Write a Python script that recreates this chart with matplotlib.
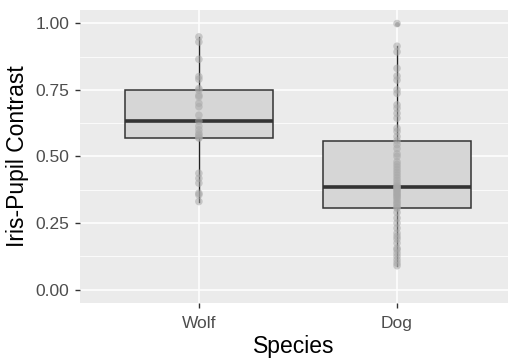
import matplotlib
matplotlib.use('Agg')
import matplotlib.pyplot as plt
import numpy as np

plt.rcParams['font.family'] = ['Liberation Sans', 'DejaVu Sans']

species = ['Wolf', 'Dog']

wolf = [0.331, 0.356, 0.362, 0.400, 0.418, 0.437, 0.569, 0.572, 0.580,
        0.587, 0.600, 0.614, 0.633, 0.655, 0.687, 0.700, 0.724, 0.730,
        0.749, 0.755, 0.790, 0.800, 0.865, 0.930, 0.949]

dog = [0.090, 0.100, 0.112, 0.125, 0.137, 0.150, 0.156, 0.175, 0.190,
       0.200, 0.212, 0.231, 0.250, 0.269, 0.290,
       0.306,
       0.310, 0.318, 0.325, 0.330, 0.338, 0.345, 0.350, 0.355, 0.360,
       0.365, 0.370, 0.375, 0.380, 0.384,
       0.387,
       0.392, 0.400, 0.410, 0.420, 0.430, 0.440, 0.450, 0.460, 0.470,
       0.480, 0.500, 0.510, 0.530, 0.545,
       0.559,
       0.575, 0.594, 0.606, 0.644, 0.662, 0.681, 0.694, 0.737, 0.750,
       0.787, 0.802, 0.831, 0.893, 0.914, 0.999]

yticks = [0.00, 0.25, 0.50, 0.75, 1.00]
ytick_labels = ['0.00', '0.25', '0.50', '0.75', '1.00']

W, H = 509, 358
fig = plt.figure(figsize=(W / 100, H / 100), dpi=100)
ax = fig.add_axes([80 / W, (H - 303) / H, 428 / W, 293 / H])
ax.set_facecolor('#EBEBEB')

data = [wolf, dog]
pos = [1, 2]

ax.boxplot(data, positions=pos, widths=0.75, patch_artist=True,
           boxprops=dict(facecolor='#D6D6D6', edgecolor='#333333', linewidth=1.1),
           medianprops=dict(color='#333333', linewidth=2.6),
           whiskerprops=dict(color='#222222', linewidth=1.0),
           capprops=dict(linewidth=0),
           flierprops=dict(marker='o', markersize=3.5, markerfacecolor='#777777',
                           markeredgecolor='none', alpha=0.6),
           zorder=2)

for p, vals in zip(pos, data):
    ax.scatter(np.full(len(vals), p), vals, s=30, color='#A8A8A8', alpha=0.55,
               edgecolors='none', zorder=3)

ax.set_xlim(0.4, 2.56)
ax.set_ylim(-0.05, 1.05)
ax.set_xticks(pos)
ax.set_xticklabels(species)
ax.set_yticks(yticks)
ax.set_yticklabels(ytick_labels)
ax.set_yticks([0.125, 0.375, 0.625, 0.875], minor=True)

ax.grid(which='major', color='white', linewidth=1.1, zorder=0)
ax.grid(which='minor', axis='y', color='white', linewidth=0.55, zorder=0)
ax.set_axisbelow(True)

for s in ax.spines.values():
    s.set_visible(False)

ax.tick_params(axis='both', which='major', length=3.5, width=1.0, color='#333333',
               labelcolor='#4D4D4D', labelsize=12.5, pad=4)
ax.tick_params(axis='x', which='major', pad=6)
ax.tick_params(axis='both', which='minor', length=0)

ax.set_xlabel('Species', fontsize=16.5, color='black', labelpad=3)
ax.set_ylabel('Iris-Pupil Contrast', fontsize=16.5, color='black', labelpad=5)

fig.savefig('out.png', dpi=100)
